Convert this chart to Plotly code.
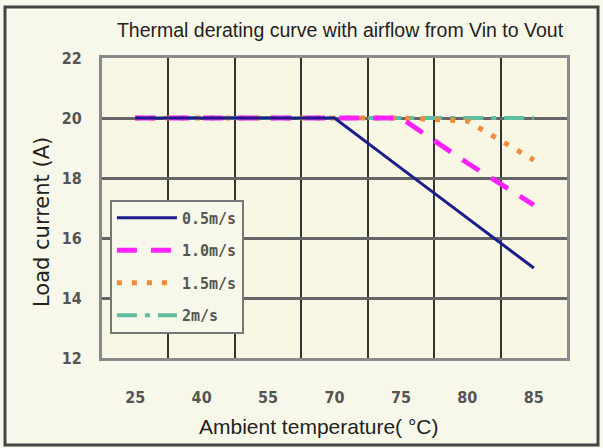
import plotly.graph_objects as go

categories = ["25", "40", "55", "70", "75", "80", "85"]
s05 = [20, 20, 20, 20, 18.33, 16.67, 15.0]
s10 = [20, 20, 20, 20, 20, 18.5, 17.1]
s15 = [20, 20, 20, 20, 20, 19.9, 18.6]
s20 = [20, 20, 20, 20, 20, 20, 20]
series_names = ["0.5m/s", "1.0m/s", "1.5m/s", "2m/s"]
y_ticks = [12, 14, 16, 18, 20, 22]

styles = [
    dict(color="#1c1c8c", width=3, dash="solid"),
    dict(color="#ff22ff", width=5, dash="20px,14px"),
    dict(color="#f08a3c", width=5, dash="5px,10px"),
    dict(color="#5fbf9f", width=4, dash="20px,8px,5px,8px"),
]

fig = go.Figure()
# draw 2m/s first so the navy line ends on top
for i in reversed(range(4)):
    fig.add_trace(go.Scatter(
        x=categories, y=[s05, s10, s15, s20][i], mode="lines",
        name=series_names[i], line=styles[i], legendgroup=series_names[i],
        legendrank=i + 1,
    ))

L, T, PW, PH = 102, 58, 465, 300  # plot area in pixels

fig.update_layout(
    width=603, height=448,
    margin=dict(l=L, r=603 - L - PW, t=T, b=448 - T - PH),
    paper_bgcolor="#f8f8ea",
    plot_bgcolor="#f7f7e4",
    title=dict(
        text="Thermal derating curve with airflow from Vin to Vout",
        x=340 / 603, xref="container", y=1 - 30 / 448, yref="container",
        xanchor="center", yanchor="middle",
        font=dict(family="Liberation Sans, Arial", size=19.5, color="#222222"),
    ),
    showlegend=True,
    legend=dict(
        x=0.017, y=0.528, xanchor="left", yanchor="top",
        bgcolor="#f8f8ea", bordercolor="#777777", borderwidth=2,
        font=dict(family="DejaVu Sans Mono, Liberation Mono", size=15, color="#555555", weight="bold"),
        traceorder="grouped", tracegroupgap=10,
        itemwidth=60,
    ),
    shapes=[dict(
        type="rect", xref="paper", yref="paper",
        x0=(5 - L) / PW, x1=(598 - L) / PW, y0=(T + PH - 445) / PH, y1=(T + PH - 7) / PH,
        line=dict(color="#444444", width=3), fillcolor="rgba(0,0,0,0)", layer="below",
    )],
    annotations=[
        dict(text="Ambient temperature( °C)", xref="paper", yref="paper",
             x=(318 - L) / PW, y=(T + PH - 426) / PH, showarrow=False,
             xanchor="center", yanchor="middle",
             font=dict(family="Liberation Sans, Arial", size=21, color="#222222")),
        dict(text="Load current (A)", xref="paper", yref="paper",
             x=(42 - L) / PW, y=(T + PH - 222) / PH, showarrow=False, textangle=-90,
             xanchor="center", yanchor="middle",
             font=dict(family="DejaVu Sans, Liberation Sans", size=21, color="#222222")),
    ],
)

fig.update_xaxes(
    type="category", categoryorder="array", categoryarray=categories,
    range=[-0.5, 6.5], tickson="boundaries",
    showgrid=True, gridcolor="#333333", gridwidth=2,
    showline=True, linecolor="#8a8a8a", linewidth=3, mirror=True,
    ticks="", ticklabelstandoff=23,
    tickfont=dict(family="DejaVu Sans Condensed, DejaVu Sans", size=16, color="#555555", weight="bold"),
    zeroline=False,
)
fig.update_yaxes(
    range=[12, 22], tickvals=y_ticks,
    showgrid=True, gridcolor="#666666", gridwidth=3,
    showline=True, linecolor="#8a8a8a", linewidth=3, mirror=True,
    ticks="", ticklabelstandoff=14,
    tickfont=dict(family="DejaVu Sans Condensed, DejaVu Sans", size=16, color="#555555", weight="bold"),
    zeroline=False,
)

fig.write_html("out.html", config={"displayModeBar": False},
               post_script="document.body.style.margin='0';")
